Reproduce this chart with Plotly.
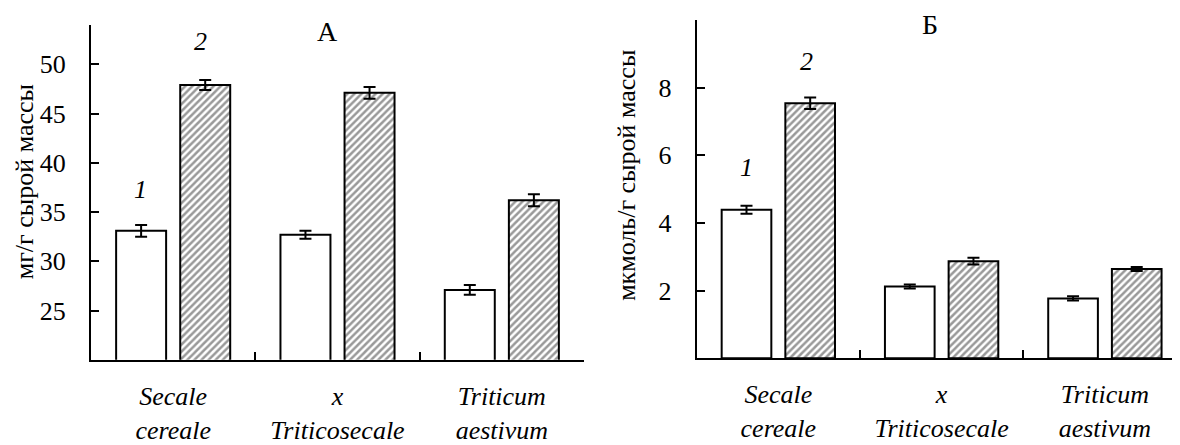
import plotly.graph_objects as go

categories = ["Secale cereale", "x Triticosecale", "Triticum aestivum"]
cat_labels = ["Secale<br>cereale", "x<br>Triticosecale", "Triticum<br>aestivum"]

# Panel A (мг/г сырой массы)
a_s1 = [33.1, 32.7, 27.1]
a_s1_err = [0.6, 0.4, 0.5]
a_s2 = [47.9, 47.1, 36.2]
a_s2_err = [0.5, 0.6, 0.6]
a_ticks = [25, 30, 35, 40, 45, 50]

# Panel B (мкмоль/г сырой массы)
b_s1 = [4.39, 2.12, 1.77]
b_s1_err = [0.12, 0.06, 0.06]
b_s2 = [7.54, 2.87, 2.64]
b_s2_err = [0.17, 0.10, 0.06]
b_ticks = [2, 4, 6, 8]

FONT = "Times New Roman, Liberation Serif, DejaVu Serif, serif"
# page body has an 8px default margin; figure sized to fill the rest of the window
W, H = 1172, 437
OFF = 8

def px(v):
    return v - OFF

fig = go.Figure()

def add_pair(s1, e1, s2, e2, xa, ya, name_sfx):
    fig.add_trace(go.Bar(
        x=categories, y=s1, name="1" + name_sfx, xaxis=xa, yaxis=ya,
        marker=dict(color="white", line=dict(color="black", width=2)),
        error_y=dict(type="data", array=e1, color="black", thickness=2, width=6),
        showlegend=False, offsetgroup="1",
    ))
    fig.add_trace(go.Bar(
        x=categories, y=s2, name="2" + name_sfx, xaxis=xa, yaxis=ya,
        marker=dict(color="white", line=dict(color="black", width=2),
                    pattern=dict(shape="/", fgcolor="#333333", bgcolor="white",
                                 size=5, solidity=0.5)),
        error_y=dict(type="data", array=e2, color="black", thickness=2, width=6),
        showlegend=False, offsetgroup="2",
    ))

add_pair(a_s1, a_s1_err, a_s2, a_s2_err, "x", "y", "A")
add_pair(b_s1, b_s1_err, b_s2, b_s2_err, "x2", "y2", "B")

xcommon = dict(
    type="category", tickson="boundaries", ticks="inside", ticklen=8,
    tickwidth=2, tickcolor="black", showline=True, linecolor="black",
    linewidth=2, showgrid=False, zeroline=False, tickmode="array",
    tickvals=categories, ticktext=cat_labels,
    tickfont=dict(family=FONT, size=26, color="black", style="italic"),
    ticklabelstandoff=12,
)
ycommon = dict(
    ticks="inside", ticklen=8, tickwidth=2, tickcolor="black",
    showline=True, linecolor="black", linewidth=2, showgrid=False,
    zeroline=False, tickmode="array",
    tickfont=dict(family=FONT, size=26, color="black"),
    ticklabelstandoff=18,
)

fig.update_layout(
    width=W, height=H,
    margin=dict(l=0, r=0, t=0, b=0),
    paper_bgcolor="white", plot_bgcolor="white",
    barmode="group", bargap=0.22, bargroupgap=0.22,
    font=dict(family=FONT, color="black"),
    xaxis=dict(domain=[px(91) / W, px(584) / W], range=[-0.5, 2.5], anchor="y", **xcommon),
    yaxis=dict(domain=[1 - px(362.3) / H, 1 - px(25) / H], range=[20, 54], anchor="x",
               tickvals=a_ticks, **ycommon),
    xaxis2=dict(domain=[px(696.7) / W, 1.0], range=[-0.5, 2.46], anchor="y2", **xcommon),
    yaxis2=dict(domain=[1 - px(360.7) / H, 1 - px(20) / H], range=[0, 10], anchor="x2",
                tickvals=b_ticks, **ycommon),
)

ann = []
# axis titles
ann.append(dict(text="мг/г сырой массы", xref="paper", yref="paper",
                x=px(24) / W, y=1 - px(183.5) / H, textangle=-90, showarrow=False,
                font=dict(family=FONT, size=26, color="black"),
                xanchor="center", yanchor="middle"))
ann.append(dict(text="мкмоль/г сырой массы", xref="paper", yref="paper",
                x=px(627) / W, y=1 - px(177) / H, textangle=-90, showarrow=False,
                font=dict(family=FONT, size=26, color="black"),
                xanchor="center", yanchor="middle"))
# panel letters
ann.append(dict(text="А", xref="paper", yref="paper", x=px(327) / W, y=1 - px(32) / H,
                showarrow=False, font=dict(family=FONT, size=28, color="black"),
                xanchor="center", yanchor="middle"))
ann.append(dict(text="Б", xref="paper", yref="paper", x=px(930) / W, y=1 - px(25) / H,
                showarrow=False, font=dict(family=FONT, size=28, color="black"),
                xanchor="center", yanchor="middle"))
# series labels
for txt, xr, yr, xv, yv, sh in [("1", "x", "y", 0, 37.3, -33), ("2", "x", "y", 0, 52.3, 27),
                                ("1", "x2", "y2", 0, 5.65, -32), ("2", "x2", "y2", 0, 8.76, 28)]:
    ann.append(dict(text=txt, xref=xr, yref=yr, x=xv, y=yv, xshift=sh, showarrow=False,
                    font=dict(family=FONT, size=26, color="black", style="italic"),
                    xanchor="center", yanchor="middle"))
fig.update_layout(annotations=ann)

fig.write_html("out.html")
